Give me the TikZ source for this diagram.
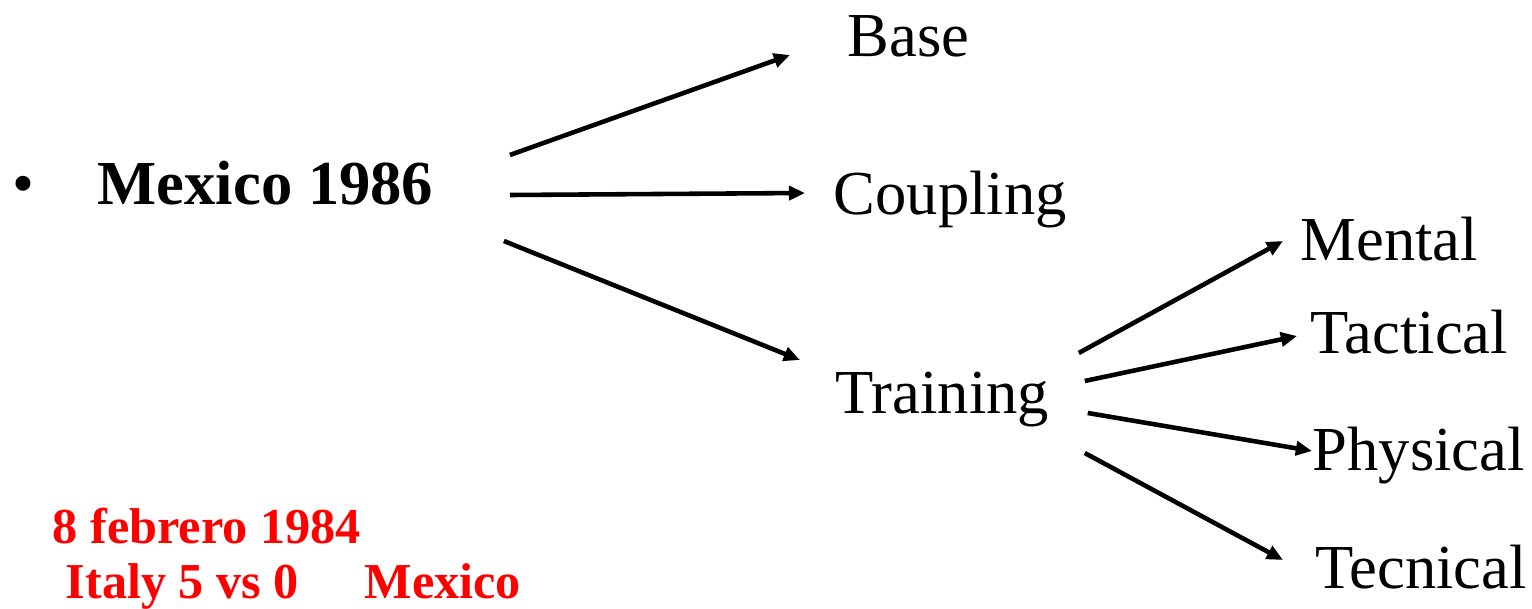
\documentclass[tikz,border=0pt]{standalone}
\usepackage{fontspec}
\setmainfont{Liberation Serif}
\usepackage{xcolor}
\usetikzlibrary{positioning,calc,arrows.meta}

\begin{document}
\begin{tikzpicture}[
    x=0.01cm, y=-0.01cm,
    item/.style={inner sep=0pt, anchor=base west, font=\fontsize{17.8}{20}\selectfont},
    note/.style={inner sep=0pt, anchor=base west, text=red, font=\fontsize{14.3}{17}\selectfont\bfseries},
    arrow/.style={-{Triangle[length=4.6pt,width=4pt]}, line width=1.3pt}
]
    \useasboundingbox (0,0) rectangle (1532,609);

    \node[item] (bullet) at (12,205) {•};
    \node[item, font=\fontsize{17.8}{20}\selectfont\bfseries] (mexico) at (97,205) {Mexico 1986};

    \node[item] (base) at (847,56) {Base};
    \node[item] (coupling) at (833,215) {Coupling};
    \node[item] (training) at (835,413) {Training};

    \node[item] (mental) at (1300,260) {Mental};
    \node[item] (tactical) at (1310,353) {Tactical};
    \node[item] (physical) at (1312,470) {Physical};
    \node[item] (tecnical) at (1315,588) {Tecnical};

    \node[note] (date) at (52,543) {8 febrero 1984};
    \node[note] (score) at (65,598) {Italy 5 vs 0\hspace*{18.7pt}Mexico};

    % first level
    \draw[arrow] ($(mexico.base east)+(76,-50)$) -- ($(base.base west)+(-57,-1)$);
    \draw[arrow] ($(mexico.base east)+(76,-10)$) -- ($(coupling.base west)+(-28,-22)$);
    \draw[arrow] ($(mexico.base east)+(70,36)$) -- ($(training.base west)+(-35,-53)$);

    % training
    \draw[arrow] ($(training.base east)+(29,-60)$) -- ($(mental.base west)+(-17,-19)$);
    \draw[arrow] ($(training.base east)+(35,-32)$) -- ($(tactical.base west)+(-13,-17)$);
    \draw[arrow] ($(training.base east)+(38,0)$) -- ($(physical.base west)+(0,-19)$);
    \draw[arrow] ($(training.base east)+(35,40)$) -- ($(tecnical.base west)+(-32,-28)$);
\end{tikzpicture}
\end{document}
